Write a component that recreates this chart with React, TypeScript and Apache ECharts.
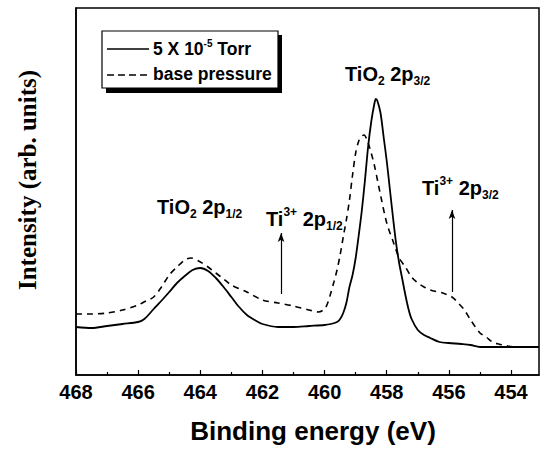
import React, { useEffect, useRef } from "react";
import * as echarts from "echarts";

const solidEnergy = [468, 467.5, 467, 466.5, 466, 465.8, 465.5, 465.2, 465, 464.75, 464.5, 464.25, 464, 463.75, 463.5, 463.25, 463, 462.75, 462.5, 462.25, 462, 461.5, 461, 460.5, 460, 459.8, 459.6, 459.5, 459.4, 459.3, 459.2, 459.1, 459, 458.9, 458.8, 458.7, 458.6, 458.5, 458.4, 458.35, 458.3, 458.2, 458.1, 458, 457.9, 457.8, 457.7, 457.6, 457.5, 457.4, 457.3, 457.2, 457, 456.8, 456.6, 456.3, 456, 455.6, 455.3, 455, 454.5, 454, 453.5, 453.1];
const solidIntensity = [48, 47, 49, 51, 53, 56, 66, 76, 83, 92, 99, 105, 107, 104, 97, 88, 78, 68, 60, 55, 51, 48, 48, 49, 50, 51, 53, 56, 62, 72, 88, 100, 117, 140, 165, 195, 228, 253, 271, 276, 274, 262, 238, 214, 186, 158, 132, 112, 96, 80, 66, 56, 45, 40, 37, 33, 32, 31, 30, 28, 28, 28, 28, 28];

const dashedEnergy = [468, 467.5, 467, 466.5, 466, 465.75, 465.5, 465.25, 465, 464.75, 464.5, 464.3, 464, 463.75, 463.5, 463.25, 463, 462.5, 462, 461.5, 461, 460.5, 460.2, 460, 459.9, 459.8, 459.7, 459.6, 459.5, 459.4, 459.3, 459.2, 459.1, 459, 458.9, 458.8, 458.73, 458.6, 458.5, 458.4, 458.2, 458, 457.8, 457.6, 457.4, 457.2, 457, 456.8, 456.6, 456.2, 455.9, 455.7, 455.5, 455.3, 455, 454.8, 454.6, 454.4, 454.1, 453.8, 453.1];
const dashedIntensity = [61, 61, 62, 65, 70, 74, 78, 88, 100, 108, 115, 117, 113, 108, 102, 96, 90, 83, 75, 72, 69, 65, 63, 66, 72, 82, 93, 105, 120, 138, 155, 175, 200, 222, 234, 239, 240, 232, 222, 210, 180, 152, 134, 117, 108, 98, 92, 88, 85, 82, 78, 72, 65, 55, 42, 38, 33, 31, 29, 28, 28];

const majorTicks = [468, 466, 464, 462, 460, 458, 456, 454];
const minorTicks = [467, 465, 463, 461, 459, 457, 455];

const seriesNames = ["5 X 10-5 Torr", "base pressure"];

// arrow annotations [energy, fromIntensity, toIntensity]
const arrow1 = [461.4, 81, 142];
const arrow2 = [455.9, 83, 165];

const X_MIN = 453.1;
const X_MAX = 468;

const mainFont = "Liberation Sans, Arial, sans-serif";

const richStyles = {
  m: { fontSize: 20, fontWeight: "bold", fontFamily: mainFont, fill: "#000", lineHeight: 26, verticalAlign: "middle" },
  sb: { fontSize: 12, fontWeight: "bold", fontFamily: mainFont, fill: "#000", lineHeight: 12, verticalAlign: "bottom" },
  sp: { fontSize: 12, fontWeight: "bold", fontFamily: mainFont, fill: "#000", lineHeight: 12, verticalAlign: "top" },
};

const legendRich = {
  n: { fontSize: 17.5, fontWeight: "bold", fontFamily: mainFont, fill: "#000", lineHeight: 22, verticalAlign: "middle" },
  sp: { fontSize: 10, fontWeight: "bold", fontFamily: mainFont, fill: "#000", lineHeight: 10, verticalAlign: "top" },
};

function annot(text: string, x: number, y: number, rich: any = richStyles) {
  return {
    type: "text",
    x,
    y,
    z: 10,
    style: {
      text,
      rich,
      textAlign: "left",
      textVerticalAlign: "middle",
      verticalAlign: "middle",
      fill: "#000",
    },
  };
}

export default function App() {
  const ref = useRef<HTMLDivElement>(null);
  useEffect(() => {
    if (!ref.current) return;
    const chart = echarts.init(ref.current, null, { renderer: "svg" });
    const solidData = solidEnergy.map((e, i) => [e, solidIntensity[i]]);
    const dashedData = dashedEnergy.map((e, i) => [e, dashedIntensity[i]]);
    chart.setOption({
      animation: false,
      backgroundColor: "#fff",
      grid: {
        left: 76,
        top: 8,
        right: 4,
        bottom: 79,
        show: true,
        borderColor: "#000",
        borderWidth: 1.5,
        backgroundColor: "transparent",
      },
      xAxis: [
        {
          type: "value",
          min: X_MIN,
          max: X_MAX,
          inverse: true,
          position: "bottom",
          axisLine: { show: true, lineStyle: { color: "#000", width: 1.5 } },
          axisTick: { show: true, inside: true, length: 5, customValues: majorTicks, lineStyle: { color: "#000", width: 1.2 } },
          axisLabel: {
            show: true,
            customValues: majorTicks,
            margin: 7,
            color: "#000",
            fontSize: 20,
            fontWeight: "bold",
            fontFamily: mainFont,
          },
          splitLine: { show: false },
        },
        {
          type: "value",
          min: X_MIN,
          max: X_MAX,
          inverse: true,
          position: "bottom",
          gridIndex: 0,
          axisLine: { show: false },
          axisTick: { show: true, inside: true, length: 3, customValues: minorTicks, lineStyle: { color: "#000", width: 1.2 } },
          axisLabel: { show: false },
          splitLine: { show: false },
        },
      ],
      yAxis: {
        type: "value",
        min: 0,
        max: 367,
        axisLine: { show: true, lineStyle: { color: "#000", width: 1.5 } },
        axisTick: { show: false },
        axisLabel: { show: false },
        splitLine: { show: false },
      },
      graphic: [
        { type: "rect", z: 2, shape: { x: 106, y: 35, width: 176, height: 58 }, style: { fill: "#000" } },
        { type: "rect", z: 3, shape: { x: 102, y: 31, width: 176, height: 57 }, style: { fill: "#fff", stroke: "#000", lineWidth: 1.2 } },
        { type: "line", z: 4, shape: { x1: 107, y1: 49, x2: 149, y2: 49 }, style: { stroke: "#000", lineWidth: 1.5 } },
        { type: "line", z: 4, shape: { x1: 107, y1: 75, x2: 149, y2: 75 }, style: { stroke: "#000", lineWidth: 1.5, lineDash: [7, 4] } },
        annot("{n|5 X 10}{sp|-5}{n| Torr}", 153, 49, legendRich),
        annot("{n|base pressure}", 153, 74, legendRich),
        annot("{m|TiO}{sb|2}{m| 2p}{sb|3/2}", 345, 74),
        annot("{m|TiO}{sb|2}{m| 2p}{sb|1/2}", 157, 207),
        annot("{m|Ti}{sp|3+}{m| 2p}{sb|1/2}", 266, 219),
        annot("{m|Ti}{sp|3+}{m| 2p}{sb|3/2}", 422, 188),
        {
          type: "text",
          x: 27,
          y: 180,
          rotation: Math.PI / 2,
          style: {
            text: "Intensity (arb. units)",
            fontSize: 25,
            fontWeight: "bold",
            fontFamily: "Liberation Serif, Times New Roman, serif",
            fill: "#000",
            textAlign: "center",
            textVerticalAlign: "middle",
            verticalAlign: "middle",
          },
        },
        {
          type: "text",
          x: 313,
          y: 431,
          style: {
            text: "Binding energy (eV)",
            fontSize: 26,
            fontWeight: "bold",
            fontFamily: mainFont,
            fill: "#000",
            textAlign: "center",
            textVerticalAlign: "middle",
            verticalAlign: "middle",
          },
        },
      ],
      series: [
        {
          name: seriesNames[0],
          type: "line",
          xAxisIndex: 0,
          data: solidData,
          showSymbol: false,
          symbol: "none",
          smooth: 0.3,
          lineStyle: { color: "#000", width: 1.8, type: "solid" },
          itemStyle: { color: "#000" },
        },
        {
          name: seriesNames[1],
          type: "line",
          xAxisIndex: 0,
          data: dashedData,
          showSymbol: false,
          symbol: "none",
          smooth: 0.3,
          lineStyle: { color: "#000", width: 1.6, type: [6, 5] },
          itemStyle: { color: "#000" },
          markLine: {
            silent: true,
            symbol: ["none", "arrow"],
            symbolSize: [5, 9],
            label: { show: false },
            lineStyle: { color: "#000", width: 1.2, type: "solid" },
            data: [
              [{ coord: [arrow1[0], arrow1[1]] }, { coord: [arrow1[0], arrow1[2]] }],
              [{ coord: [arrow2[0], arrow2[1]] }, { coord: [arrow2[0], arrow2[2]] }],
            ],
          },
        },
      ],
    });
    return () => chart.dispose();
  }, []);
  return <div ref={ref} style={{ position: "fixed", left: 0, top: 0, width: 543, height: 454 }} />;
}
